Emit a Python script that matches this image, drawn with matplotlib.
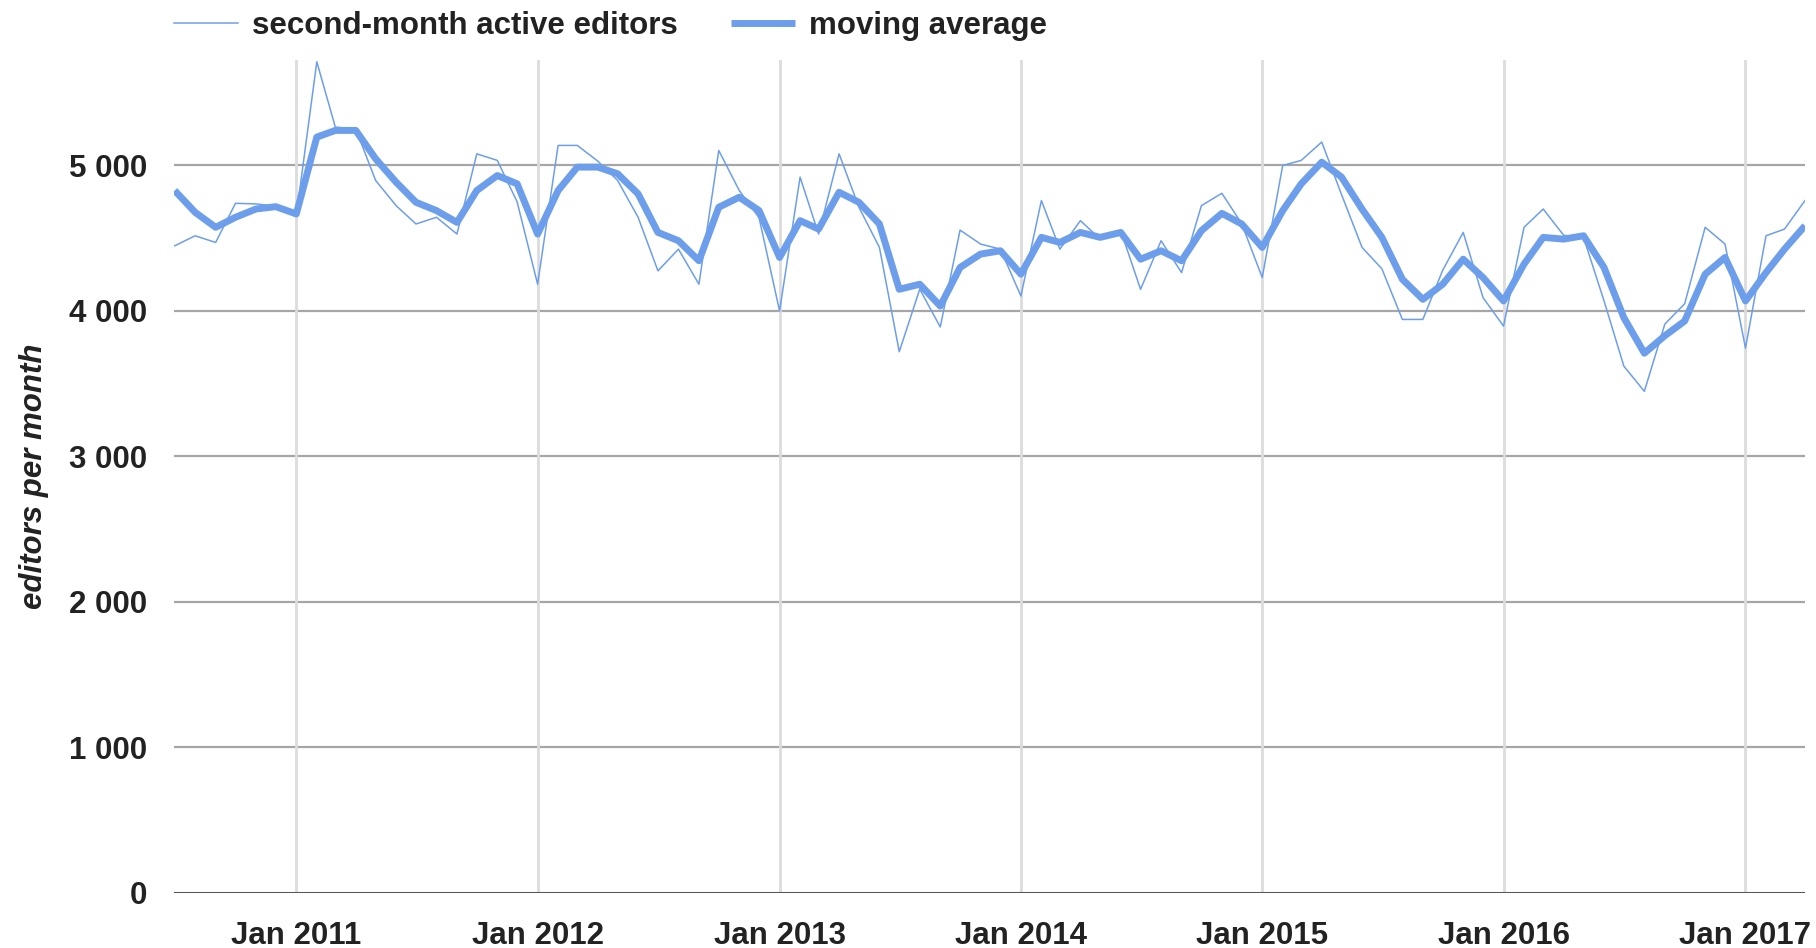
import matplotlib.pyplot as plt
import matplotlib.dates as mdates
import matplotlib.ticker as mticker
import pandas as pd

# monthly values, Jul 2010 .. Apr 2017
months = pd.date_range("2010-07-01", "2017-04-01", freq="MS")

editors = [4448, 4517, 4471, 4740, 4736, 4720,
           4655, 5713, 5264, 5250, 4897, 4724, 4598, 4644, 4529, 5080, 5035, 4750,
           4184, 5138, 5138, 5030, 4897, 4644, 4276, 4425, 4184, 5103, 4828, 4640,
           4000, 4920, 4529, 5080, 4713, 4437, 3720, 4150, 3890, 4556, 4460, 4425,
           4103, 4759, 4425, 4621, 4494, 4552, 4149, 4483, 4264, 4724, 4809, 4600,
           4230, 5000, 5035, 5161, 4800, 4437, 4290, 3942, 3942, 4280, 4540, 4092,
           3896, 4575, 4701, 4520, 4506, 4070, 3621, 3448, 3910, 4050, 4575, 4460,
           3745, 4517, 4563, 4759]

moving_avg = [4828, 4678, 4575, 4644, 4701, 4717,
              4667, 5195, 5241, 5241, 5046, 4885, 4747, 4690, 4609, 4828, 4931, 4874,
              4529, 4828, 4989, 4989, 4943, 4805, 4540, 4483, 4345, 4713, 4782, 4690,
              4368, 4621, 4563, 4816, 4747, 4598, 4149, 4184, 4034, 4299, 4391, 4414,
              4253, 4506, 4471, 4540, 4506, 4540, 4356, 4414, 4345, 4552, 4671, 4598,
              4437, 4690, 4874, 5023, 4920, 4700, 4506, 4218, 4080, 4184, 4356, 4230,
              4069, 4322, 4506, 4494, 4517, 4299, 3954, 3710, 3830, 3931, 4253, 4368,
              4069, 4264, 4425, 4586]

y_ticks = [0, 1000, 2000, 3000, 4000, 5000]

plt.rcParams["font.family"] = "Liberation Sans"
plt.rcParams["font.weight"] = "bold"
fs = 22.5
txt = "#222222"
blue = "#6d9eeb"

fig = plt.figure(figsize=(18.16, 9.48), dpi=100)
ax = fig.add_axes([174 / 1816, 1 - 893 / 948, (1805 - 174) / 1816, (893 - 60) / 948])

ax.plot(months, editors, color=blue, lw=1.1, label="second-month active editors", zorder=3)
ax.plot(months, moving_avg, color=blue, lw=5, label="moving average",
        solid_joinstyle="round", solid_capstyle="butt", zorder=4)

ax.set_xlim(months[0] - pd.Timedelta(days=1), months[-1])
ax.set_ylim(0, 5725)

ax.set_yticks(y_ticks)
ax.yaxis.set_major_formatter(mticker.FuncFormatter(lambda v, p: f"{int(v):,}".replace(",", " ")))
ax.xaxis.set_major_locator(mdates.YearLocator(1, month=1, day=1))
ax.xaxis.set_major_formatter(mdates.DateFormatter("Jan %Y"))

ax.tick_params(axis="both", length=0, labelsize=fs, labelcolor=txt)
ax.tick_params(axis="y", pad=19)
ax.tick_params(axis="x", pad=20)

for s in ax.spines.values():
    s.set_visible(False)

for v in y_ticks[1:]:
    ax.axhline(v, color="#a6a6a6", lw=1.6, zorder=1)
ax.axhline(0, color="#555555", lw=2.2, zorder=2)
ax.grid(axis="x", color="#dcdcdc", lw=2, zorder=0)

fig.text(34 / 1816, 1 - 476 / 948, "editors per month", rotation=90, ha="center", va="center",
         fontsize=fs, style="italic", fontweight="bold", color=txt)

fig.legend(loc="center left", bbox_to_anchor=(174 / 1816, 1 - 26 / 948), ncol=2,
           frameon=False, fontsize=fs, handlelength=2.05, handletextpad=0.45,
           columnspacing=1.7, borderpad=0, borderaxespad=0, labelcolor=txt)

fig.savefig("out.png", dpi=100)
